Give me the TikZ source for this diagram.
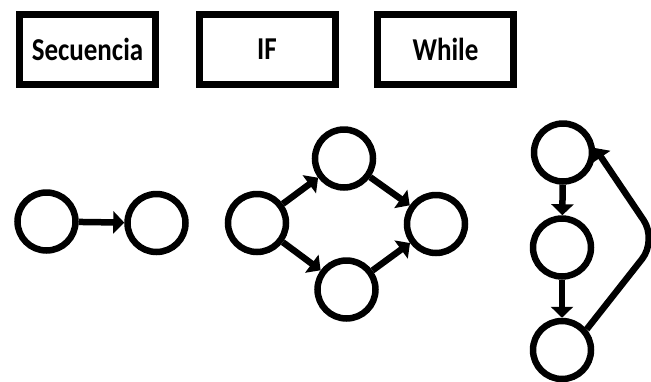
\documentclass[tikz,border=0pt]{standalone}
\usepackage{fontspec}
\setmainfont{Carlito}
\usetikzlibrary{arrows.meta}
\newcommand{\headtext}[1]{\scalebox{1}[1.18]{#1}}
\tikzset{
  titlebox/.style={draw, line width=7pt, minimum width=136pt, minimum height=70pt,
    inner sep=0pt, font=\bfseries\fontsize{27}{30}\selectfont},
  state/.style={draw, circle, line width=6.5pt, minimum size=58pt, inner sep=0pt},
  flow/.style={line width=6.5pt, -{Triangle[width=22pt,length=11pt]}},
}
\begin{document}
\begin{tikzpicture}[x=1pt,y=-1pt]
  \useasboundingbox (0,0) rectangle (651,381);

  % headings
  \node[titlebox] (hseq) at (87.5,49.5) {\headtext{Secuencia}};
  \node[titlebox] (hif) at (267,49.5) {\headtext{IF}};
  \node[titlebox] (hwhile) at (445.5,49.5) {\headtext{While}};

  % sequence
  \node[state] (s1) at (46.5,221.5) {};
  \node[state] (s2) at (156.5,223) {};
  \draw[flow] (s1) -- (s2);

  % if
  \node[state] (i0) at (257,223) {};
  \node[state] (it) at (344,158.5) {};
  \node[state] (ib) at (346.5,289.5) {};
  \node[state] (ie) at (436,224) {};
  \draw[flow] (i0) -- (it);
  \draw[flow] (i0) -- (ib);
  \draw[flow] (it) -- (ie);
  \draw[flow] (ib) -- (ie);

  % while
  \node[state] (wt) at (563,152.5) {};
  \node[state] (wm) at (562,247.5) {};
  \node[state] (wb) at (562,350) {};
  \coordinate (wc) at (657,240);
  \draw[flow] (wt) -- (wm);
  \draw[flow] (wm) -- (wb);
  \draw[flow, rounded corners=24pt] (wb.40) -- (wc) -- (wt.8);
\end{tikzpicture}
\end{document}
